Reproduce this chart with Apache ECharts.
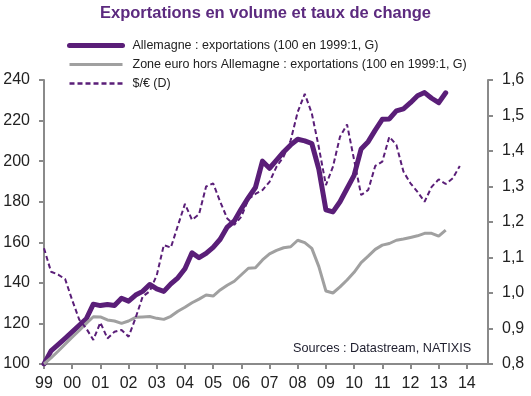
<!DOCTYPE html>
<html>
<head>
<meta charset="utf-8">
<script src="https://cdn.jsdelivr.net/npm/echarts@6/dist/echarts.min.js"></script>
<style>
  html, body { margin: 0; padding: 0; background: #fff; }
  #chart { width: 531px; height: 396px; }
</style>
</head>
<body>
<div id="chart"></div>
<script>
// years on the x axis (one tick per year, data is quarterly)
const yearLabels = ['99', '00', '01', '02', '03', '04', '05', '06', '07', '08', '09', '10', '11', '12', '13', '14'];
const quarters = [];
yearLabels.forEach(y => ['T1', 'T2', 'T3', 'T4'].forEach(q => quarters.push(y + q)));

// Allemagne : exportations (100 en 1999:1)
const allemagne = [
  100, 106.5, 109.5, 112.6, 115.8, 119, 122.3, 129.5,
  128.8, 129.3, 128.8, 132.4, 131, 134, 135.8, 139.2,
  137, 135.8, 139.5, 142.5, 147, 154.8, 152.4, 154.5,
  157.5, 161.5, 167.5, 170.5, 176.5, 182, 187, 200,
  196.5, 200.5, 204.5, 208, 210.8, 210, 208.7, 196,
  176, 175, 180, 186.5, 193, 206, 209.6, 215.3,
  220.6, 220.8, 224.8, 225.8, 228.8, 232.2, 233.8, 231,
  228.8, 233.7
];

// Zone euro hors Allemagne : exportations (100 en 1999:1)
const zoneEuro = [
  100, 103, 106.3, 109.8, 113.2, 116.5, 120, 123.3,
  123.2, 121.7, 121.2, 120, 121.2, 123, 123.2, 123.4,
  122.5, 122, 123.5, 126, 128, 130.2, 132, 134,
  133.5, 136.5, 138.8, 140.8, 144, 147.2, 147.5, 151.3,
  154.3, 156, 157.3, 157.8, 161, 159.8, 157, 148,
  136, 135, 138, 141.4, 145.2, 150, 153.2, 156.5,
  158.6, 159.4, 161, 161.6, 162.4, 163.2, 164.4, 164.4,
  163, 166
];

// $/€ (right axis)
const dollarEuro = [
  1.126, 1.06, 1.052, 1.039, 0.98, 0.925, 0.9, 0.868,
  0.917, 0.872, 0.891, 0.896, 0.877, 0.93, 0.99, 1.005,
  1.05, 1.135, 1.128, 1.19, 1.251, 1.206, 1.222, 1.3,
  1.309, 1.257, 1.21, 1.192, 1.215, 1.264, 1.279, 1.29,
  1.313, 1.356, 1.384, 1.43, 1.51, 1.561, 1.506, 1.41,
  1.304, 1.356, 1.44, 1.475, 1.375, 1.276, 1.29, 1.358,
  1.37, 1.44, 1.417, 1.342, 1.309, 1.285, 1.257, 1.299,
  1.32, 1.307, 1.323, 1.358
];

const FONT = '"Liberation Sans", Arial, sans-serif';
const PURPLE = '#5a1e78';
const GREY = '#a0a0a0';
const AXIS = '#8a8a8a';

const isYearStart = (idx) => idx % 4 === 0;

const chart = echarts.init(document.getElementById('chart'));
chart.setOption({
  animation: false,
  textStyle: { fontFamily: FONT },
  graphic: [
    {
      type: 'text', left: 'center', top: 5,
      style: { text: 'Exportations en volume et taux de change', font: 'bold 16.5px ' + FONT, fill: '#5c2a7f' }
    },
    {
      type: 'text', left: 293, top: 342,
      style: { text: 'Sources : Datastream, NATIXIS', font: '12.7px ' + FONT, fill: '#1e1e2e' }
    }
  ],
  legend: {
    orient: 'vertical',
    left: 67, top: 38.5, padding: 0,
    itemWidth: 53, itemHeight: 14, itemGap: 5,
    itemStyle: { opacity: 0 },
    textStyle: { fontSize: 12.5, color: '#222', lineHeight: 14, padding: [0, 0, 0, 5] },
    data: [
      { name: 'Allemagne : exportations (100 en 1999:1, G)', lineStyle: { width: 5, cap: 'round' } },
      { name: 'Zone euro hors Allemagne : exportations (100 en 1999:1, G)', lineStyle: { width: 3 } },
      { name: '$/€ (D)', lineStyle: { width: 2.5 } }
    ]
  },
  grid: { left: 44, right: 43, top: 80, bottom: 32 },
  xAxis: {
    type: 'category',
    data: quarters,
    boundaryGap: false,
    axisLine: { lineStyle: { color: AXIS, width: 2 } },
    axisTick: { interval: isYearStart, length: 5, lineStyle: { color: AXIS, width: 2 } },
    axisLabel: {
      interval: isYearStart, margin: 12, fontSize: 16, color: '#222',
      formatter: (v) => v.slice(0, 2)
    },
    splitLine: { show: false }
  },
  yAxis: [
    {
      type: 'value', min: 100, max: 240, interval: 20,
      axisLine: { show: true, lineStyle: { color: AXIS, width: 2 } },
      axisTick: { show: true, length: 5, lineStyle: { color: AXIS, width: 2 } },
      axisLabel: { margin: 14, fontSize: 16, color: '#222' },
      splitLine: { show: false }
    },
    {
      type: 'value', min: 0.8, max: 1.6, interval: 0.1,
      axisLine: { show: true, lineStyle: { color: AXIS, width: 2 } },
      axisTick: { show: true, length: 5, lineStyle: { color: AXIS, width: 2 } },
      axisLabel: { margin: 14, fontSize: 16, color: '#222', formatter: (v) => v.toFixed(1).replace('.', ',') },
      splitLine: { show: false }
    }
  ],
  series: [
    {
      name: 'Allemagne : exportations (100 en 1999:1, G)',
      type: 'line', data: allemagne, yAxisIndex: 0,
      showSymbol: false, symbol: 'none',
      lineStyle: { color: PURPLE, width: 5, cap: 'round', join: 'round' },
      itemStyle: { color: PURPLE }
    },
    {
      name: 'Zone euro hors Allemagne : exportations (100 en 1999:1, G)',
      type: 'line', data: zoneEuro, yAxisIndex: 0,
      showSymbol: false, symbol: 'none',
      lineStyle: { color: GREY, width: 3 },
      itemStyle: { color: GREY }
    },
    {
      name: '$/€ (D)',
      type: 'line', data: dollarEuro, yAxisIndex: 1,
      showSymbol: false, symbol: 'none',
      lineStyle: { color: PURPLE, width: 2, type: [5, 3] },
      itemStyle: { color: PURPLE }
    }
  ]
});
</script>
</body>
</html>
